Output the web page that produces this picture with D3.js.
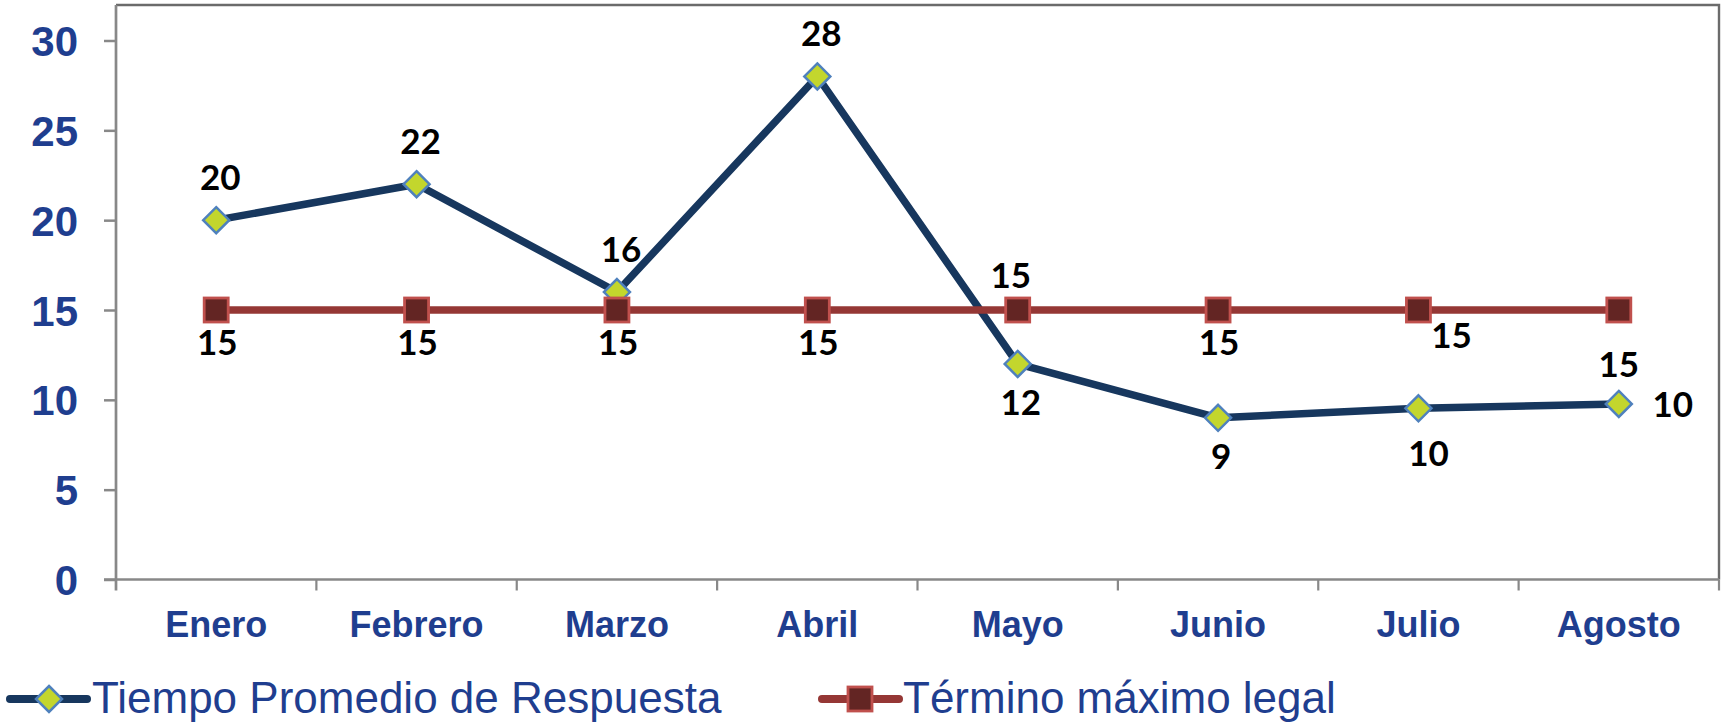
<!DOCTYPE html>
<html>
<head>
<meta charset="utf-8">
<script src="https://cdn.jsdelivr.net/npm/d3@7/dist/d3.min.js"></script>
<style>
  body { margin: 0; background: #fff; }
  svg { display: block; }
  .tick-y { font-family: "Liberation Sans", Arial, sans-serif; font-weight: bold; font-size: 42px; fill: #1f3e8f; }
  .tick-x { font-family: "Liberation Sans", Arial, sans-serif; font-weight: bold; font-size: 36px; fill: #1f3e8f; }
  .legend-text { font-family: "Liberation Sans", Arial, sans-serif; font-size: 44px; fill: #1f3e8f; }
  .point-label { font-family: Lato, "Open Sans", sans-serif; font-weight: bold; font-size: 35px; fill: #000; }
</style>
</head>
<body>
<div id="container"></div>
<script>

var months = ["Enero", "Febrero", "Marzo", "Abril", "Mayo", "Junio", "Julio", "Agosto"];

var tiempoValues = [20, 22, 16, 28, 12, 9, 9.53, 9.77];

var terminoValues = [15, 15, 15, 15, 15, 15, 15, 15];

var yTicks = [0, 5, 10, 15, 20, 25, 30];

var seriesNames = ["Tiempo Promedio de Respuesta", "Término máximo legal"];

//  where each value label sits relative to its point
var tiempoLabelPos = ["above", "above", "above", "above", "belowLow", "belowLow", "belowLower", "right"];
var terminoLabelPos = ["below", "below", "below", "below", "aboveLeft", "below", "belowRight", "belowFar"];

var labelOffsets = {
    "above": [4, -30],
    "below": [1, 45],
    "belowLow": [3, 51],
    "belowLower": [10, 58],
    "right": [54, 13],
    "belowRight": [33, 38],
    "belowFar": [0, 67],
    "aboveLeft": [-7, -22]
};

var width = 1723;
var height = 724;

var plot = {left: 116, right: 1719, top: 5, bottom: 579.5};

var lineBlue = "#17375e";
var lineRed = "#953735";

var x = d3.scaleBand()
    .domain(months)
    .range([plot.left, plot.right]);

var y = d3.scaleLinear()
    .domain([0, 30])
    .range([plot.bottom, 40.5]);

var svg = d3.select("#container")
    .append("svg")
    .attr("width", width)
    .attr("height", height);

//  plot frame (top and right)
svg.append("path")
    .attr("d", "M" + plot.left + "," + plot.top + "H" + plot.right + "V" + plot.bottom)
    .attr("fill", "none")
    .attr("stroke", "#6b6b6b")
    .attr("stroke-width", 2.4);

//  y axis
var yAxis = svg.append("g")
    .attr("transform", "translate(" + plot.left + ",0)")
    .call(d3.axisLeft(y).tickValues(yTicks).tickSize(12).tickPadding(26).tickSizeOuter(0));

yAxis.select(".domain")
    .attr("d", "M0," + plot.top + "V" + (plot.bottom + 11))
    .attr("stroke", "#888")
    .attr("stroke-width", 2.7);

yAxis.selectAll(".tick line").attr("stroke", "#888").attr("stroke-width", 2.5);
yAxis.selectAll(".tick text").attr("class", "tick-y").attr("dy", "0.36em").attr("fill", null);
yAxis.attr("font-size", null).attr("font-family", null);

//  x axis: ticks at category boundaries
var xAxis = svg.append("g")
    .attr("transform", "translate(0," + plot.bottom + ")");

xAxis.append("line")
    .attr("x1", plot.left - 12)
    .attr("x2", plot.right)
    .attr("stroke", "#888")
    .attr("stroke-width", 2.7);

xAxis.selectAll(".xtick")
    .data(months.slice(1).concat(["end"]))
    .enter()
    .append("line")
    .attr("class", "xtick")
    .attr("x1", function(d, i) { return i < months.length - 1 ? x(d) : plot.right; })
    .attr("x2", function(d, i) { return i < months.length - 1 ? x(d) : plot.right; })
    .attr("y1", 0)
    .attr("y2", 11)
    .attr("stroke", "#888")
    .attr("stroke-width", 2.2);

xAxis.selectAll(".tick-x")
    .data(months)
    .enter()
    .append("text")
    .attr("class", "tick-x")
    .attr("text-anchor", "middle")
    .attr("x", function(d) { return x(d) + x.bandwidth() / 2; })
    .attr("y", 57)
    .text(function(d) { return d; });

function cx(i) { return x(months[i]) + x.bandwidth() / 2; }

var line = d3.line()
    .x(function(d, i) { return cx(i); })
    .y(function(d) { return y(d); });

function diamond(g, size) {
    g.append("path")
        .attr("d", "M0," + (-size) + "L" + size + ",0L0," + size + "L" + (-size) + ",0Z")
        .attr("fill", "#c3d62d")
        .attr("stroke", "#4f81bd")
        .attr("stroke-width", 2.5);
}

function square(g, size) {
    g.append("rect")
        .attr("x", -size / 2)
        .attr("y", -size / 2)
        .attr("width", size)
        .attr("height", size)
        .attr("fill", "#632523")
        .attr("stroke", "#c0504d")
        .attr("stroke-width", 2.8);
}

//  Tiempo Promedio de Respuesta
svg.append("path")
    .datum(tiempoValues)
    .attr("d", line)
    .attr("fill", "none")
    .attr("stroke", lineBlue)
    .attr("stroke-width", 7.5)
    .attr("stroke-linejoin", "round");

svg.selectAll(".pt-tiempo")
    .data(tiempoValues)
    .enter()
    .append("g")
    .attr("class", "pt-tiempo")
    .attr("transform", function(d, i) { return "translate(" + cx(i) + "," + y(d) + ")"; })
    .each(function() { diamond(d3.select(this), 13); });

//  Término máximo legal
svg.append("path")
    .datum(terminoValues)
    .attr("d", line)
    .attr("fill", "none")
    .attr("stroke", lineRed)
    .attr("stroke-width", 7.5);

svg.selectAll(".pt-termino")
    .data(terminoValues)
    .enter()
    .append("g")
    .attr("class", "pt-termino")
    .attr("transform", function(d, i) { return "translate(" + cx(i) + "," + y(d) + ")"; })
    .each(function() { square(d3.select(this), 24); });

//  value labels
var fmt = d3.format(".0f");

function addLabels(values, pos, cls) {
    svg.selectAll("." + cls)
        .data(values)
        .enter()
        .append("text")
        .attr("class", "point-label " + cls)
        .attr("text-anchor", "middle")
        .attr("x", function(d, i) { return cx(i) + labelOffsets[pos[i]][0]; })
        .attr("y", function(d, i) { return y(d) + labelOffsets[pos[i]][1]; })
        .text(function(d) { return fmt(d); });
}

addLabels(tiempoValues, tiempoLabelPos, "lab-tiempo");
addLabels(terminoValues, terminoLabelPos, "lab-termino");

//  legend
var legendY = 699;

var leg1 = svg.append("g");
leg1.append("line")
    .attr("x1", 10).attr("x2", 87)
    .attr("y1", legendY).attr("y2", legendY)
    .attr("stroke", lineBlue)
    .attr("stroke-width", 8)
    .attr("stroke-linecap", "round");
diamond(leg1.append("g").attr("transform", "translate(49," + legendY + ")"), 13);
leg1.append("text")
    .attr("class", "legend-text")
    .attr("x", 92)
    .attr("y", 713)
    .text(seriesNames[0]);

var leg2 = svg.append("g");
leg2.append("line")
    .attr("x1", 822).attr("x2", 899)
    .attr("y1", legendY).attr("y2", legendY)
    .attr("stroke", lineRed)
    .attr("stroke-width", 8)
    .attr("stroke-linecap", "round");
square(leg2.append("g").attr("transform", "translate(860," + legendY + ")"), 24);
leg2.append("text")
    .attr("class", "legend-text")
    .attr("x", 903)
    .attr("y", 713)
    .text(seriesNames[1]);

</script>
</body>
</html>
